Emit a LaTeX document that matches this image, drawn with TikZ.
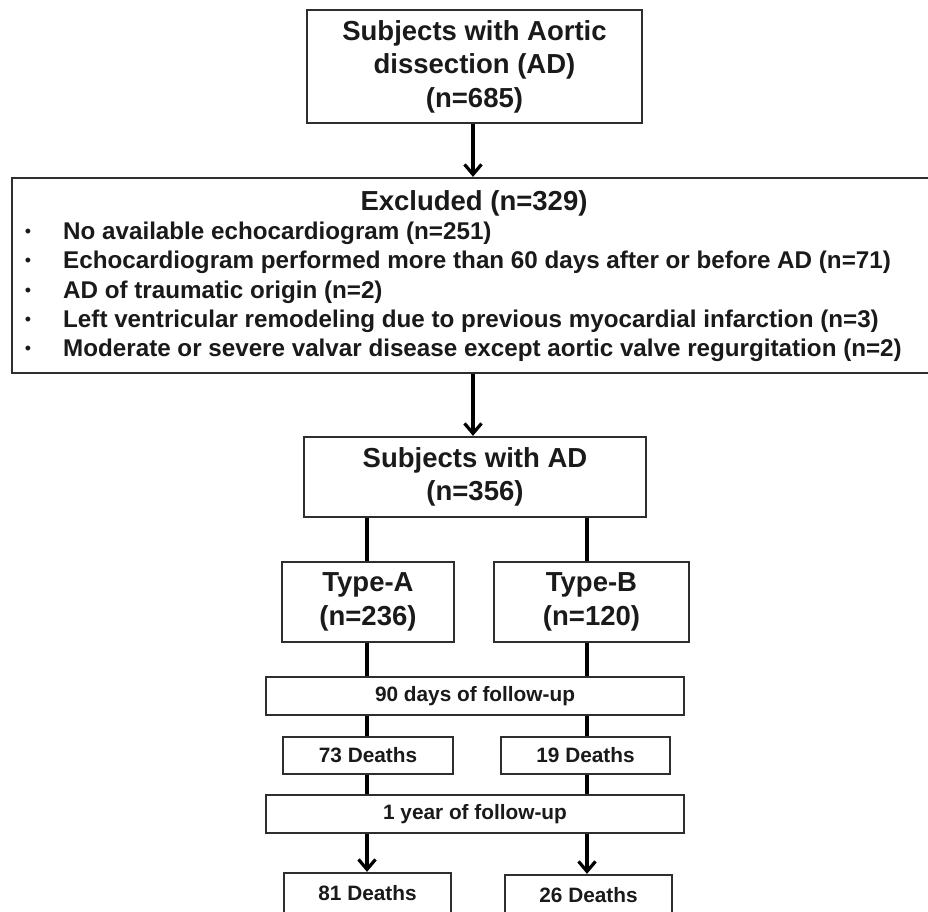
\documentclass[tikz,border=0pt]{standalone}
\usepackage{fontspec}
\setmainfont{Liberation Sans}
\usetikzlibrary{arrows.meta}
\definecolor{boxgray}{HTML}{2E2E2E}
\definecolor{txt}{HTML}{1A1A1A}
\tikzset{
  box/.style={draw=boxgray, line width=2.3pt, fill=white, inner sep=0pt, align=center, text=txt},
  big/.style={font=\bfseries\fontsize{27.5}{33.5}\selectfont},
  mid/.style={font=\bfseries\fontsize{24.2}{29}\selectfont},
  small/.style={font=\bfseries\fontsize{20.8}{25}\selectfont},
  conn/.style={line width=3.2pt, draw=black},
  arr/.style={conn, -{Straight Barb[length=10pt,width=17pt,line width=3.2pt]}},
  item/.style={anchor=west, inner sep=0pt, text=txt, mid},
  bul/.style={inner sep=0pt, text=txt, font=\fontsize{18}{18}\selectfont}
}
\begin{document}
\begin{tikzpicture}[x=1pt,y=-1pt]
\useasboundingbox (0,0) rectangle (928,911);
% boxes
\node[box, big, minimum width=335pt, minimum height=113pt] (top) at (474.5,66.5)
  {Subjects with Aortic\\dissection (AD)\\(n=685)};
\node[box, minimum width=920pt, minimum height=195pt] (excl) at (472,275.5) {};
\node[big, text=txt, inner sep=0pt] (exh) at (474,203) {Excluded (n=329)};
\foreach \i/\t in {1/{No available echocardiogram (n=251)},
                   2/{Echocardiogram performed more than 60 days after or before AD (n=71)},
                   3/{AD of traumatic origin (n=2)},
                   4/{Left ventricular remodeling due to previous myocardial infarction (n=3)},
                   5/{Moderate or severe valvar disease except aortic valve regurgitation (n=2)}}{
  \pgfmathsetmacro{\yy}{233.5+29.2*(\i-1)}
  \node[bul] (b\i) at (28,\yy) {•};
  \node[item] (it\i) at (63,\yy) {\t};
}
\node[box, big, minimum width=342pt, minimum height=80pt] (subj) at (475,477)
  {Subjects with AD\\(n=356)};
\node[box, big, minimum width=172pt, minimum height=80pt] (typeA) at (368,602)
  {Type-A\\(n=236)};
\node[box, big, minimum width=195pt, minimum height=80pt] (typeB) at (591.5,602)
  {Type-B\\(n=120)};
\node[box, small, minimum width=418pt, minimum height=38pt] (fu90) at (475,696)
  {90 days of follow-up};
\node[box, small, minimum width=170pt, minimum height=37pt] (d73) at (368,755.5)
  {73 Deaths};
\node[box, small, minimum width=169pt, minimum height=37pt] (d19) at (585.5,755.5)
  {19 Deaths};
\node[box, small, minimum width=418pt, minimum height=38pt] (fu1) at (475,814)
  {1 year of follow-up};
\node[box, small, minimum width=167pt, minimum height=40pt] (d81) at (367.5,893)
  {81 Deaths};
\node[box, small, minimum width=167pt, minimum height=40pt] (d26) at (588.5,895)
  {26 Deaths};
% columns
\coordinate (colA) at (367,0);
\coordinate (colB) at (587,0);
\coordinate (colM) at (473,0);
% connectors
\draw[arr] (colM |- top.south) -- (colM |- excl.north);
\draw[arr] (colM |- excl.south) -- (colM |- subj.north);
\draw[conn] (colA |- subj.south) -- (colA |- typeA.north);
\draw[conn] (colB |- subj.south) -- (colB |- typeB.north);
\draw[conn] (colA |- typeA.south) -- (colA |- fu90.north);
\draw[conn] (colB |- typeB.south) -- (colB |- fu90.north);
\draw[conn] (colA |- fu90.south) -- (colA |- d73.north);
\draw[conn] (colB |- fu90.south) -- (colB |- d19.north);
\draw[conn] (colA |- d73.south) -- (colA |- fu1.north);
\draw[conn] (colB |- d19.south) -- (colB |- fu1.north);
\draw[arr] (colA |- fu1.south) -- (colA |- d81.north);
\draw[arr] (colB |- fu1.south) -- (colB |- d26.north);
\end{tikzpicture}
\end{document}
